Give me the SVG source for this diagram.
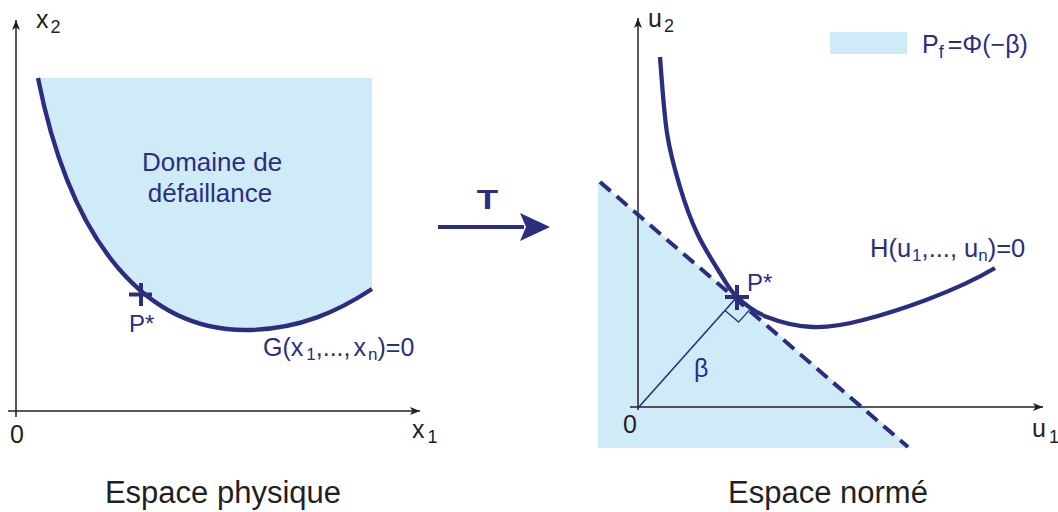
<svg xmlns="http://www.w3.org/2000/svg" width="1058" height="512" viewBox="0 0 1058 512">
<style>
.ax{stroke:#231f20;stroke-width:1.5;fill:none}
.crv{stroke:#2b2e7e;stroke-width:4.3;fill:none}
.fill{fill:#d0ebf8;stroke:none}
.nv{fill:#2b2e7e;font-family:"Liberation Sans",Arial,sans-serif}
.bk{fill:#231f20;font-family:"Liberation Sans",Arial,sans-serif}
</style>
<defs>
<marker id="ah" viewBox="0 0 10 8" refX="10" refY="4" markerWidth="10" markerHeight="8" markerUnits="userSpaceOnUse" orient="auto">
<path d="M0,0 L10,4 L0,8 L2.5,4 Z" fill="#231f20"/>
</marker>
</defs>
<rect width="1058" height="512" fill="#ffffff"/>

<g id="left-plot">
<path class="fill" d="M38,78 L372,78 L372,289 C340,310 300,330 245,330 C150,330 72,250 38,78 Z"/>
<line class="ax" x1="16" y1="417" x2="16" y2="20" marker-end="url(#ah)"/>
<line class="ax" x1="8" y1="411" x2="420" y2="411" marker-end="url(#ah)"/>
<path class="crv" d="M38,78 C72,250 150,330 245,330 C300,330 340,310 372,289"/>
<path d="M129,294.5 H152 M141,283 V306" stroke="#2b2e7e" stroke-width="4" fill="none"/>
<text class="bk" x="36" y="28" font-size="25">x<tspan font-size="18" dx="2" dy="5">2</tspan></text>
<text class="bk" x="10" y="443" font-size="25">0</text>
<text class="bk" x="412" y="438" font-size="25">x<tspan font-size="18" dx="3" dy="5">1</tspan></text>
<text class="nv" x="212" y="171" font-size="26" text-anchor="middle">Domaine de</text>
<text class="nv" x="210" y="202" font-size="26" text-anchor="middle">défaillance</text>
<text class="nv" x="129" y="332" font-size="24">P*</text>
<text class="nv" x="263" y="356" font-size="25">G(x<tspan font-size="17" dx="3" dy="4">1</tspan><tspan dy="-4">,...,</tspan><tspan dx="3">x</tspan><tspan font-size="17" dx="2" dy="4">n</tspan><tspan dy="-4">)=0</tspan></text>
<text class="bk" x="223" y="503" font-size="31" text-anchor="middle">Espace physique</text>
</g>

<g id="transform-arrow">
<line x1="438" y1="227" x2="524" y2="227" stroke="#2b2e7e" stroke-width="4"/>
<path d="M520,213 L550,227 L520,241 L526,227 Z" fill="#2b2e7e"/>
<text class="nv" transform="translate(487.5,209) scale(1.3,1)" x="0" y="0" font-size="27" font-weight="bold" text-anchor="middle">T</text>
</g>

<g id="right-plot">
<polygon class="fill" points="598,180 912,448 598,448"/>
<line class="ax" x1="638" y1="410" x2="638" y2="18" marker-end="url(#ah)"/>
<line class="ax" x1="630" y1="407" x2="1043" y2="407" marker-end="url(#ah)"/>
<line x1="600" y1="182" x2="908" y2="447" stroke="#2b2e7e" stroke-width="4" stroke-dasharray="14 8"/>
<line x1="638" y1="408" x2="737" y2="297" stroke="#2b2e7e" stroke-width="1.6"/>
<path d="M725,310.4 L738.6,322.1 L750.6,308.7" stroke="#2b2e7e" stroke-width="1.3" fill="none"/>
<path class="crv" d="M660,57 C661,69 663.7,111.3 667,133 C670.3,154.7 675,170.3 680,187 C685,203.7 690.3,218.7 697,233 C703.7,247.3 713.3,262.3 720,273 C726.7,283.7 729.2,289.7 737,297 C744.8,304.3 754.3,312 767,317 C779.7,322 797,326.5 813,327 C829,327.5 846.3,324.5 863,320 C895,312 955,292 995,268"/>
<path d="M725,297 H749 M737,285 V310" stroke="#2b2e7e" stroke-width="4" fill="none"/>
<text class="bk" x="648" y="27" font-size="25">u<tspan font-size="18" dx="2" dy="5">2</tspan></text>
<text class="bk" x="623" y="433" font-size="25">0</text>
<text class="bk" x="1032" y="437" font-size="25">u<tspan font-size="18" dx="3" dy="6">1</tspan></text>
<text class="nv" x="747" y="291" font-size="24">P*</text>
<text class="nv" x="694" y="377" font-size="25">β</text>
<text class="nv" x="870" y="257" font-size="25.5">H(u<tspan font-size="17" dx="1" dy="4">1</tspan><tspan dy="-4">,..., u</tspan><tspan font-size="17" dy="4">n</tspan><tspan dy="-4">)=0</tspan></text>
<text class="bk" x="828" y="503" font-size="31" text-anchor="middle">Espace normé</text>
</g>

<g id="legend">
<rect class="fill" x="830" y="32" width="77" height="22"/>
<text class="nv" x="922" y="53" font-size="25">P<tspan font-size="18" dy="5">f</tspan><tspan dx="4" dy="-5">=Φ(−β)</tspan></text>
</g>
</svg>
